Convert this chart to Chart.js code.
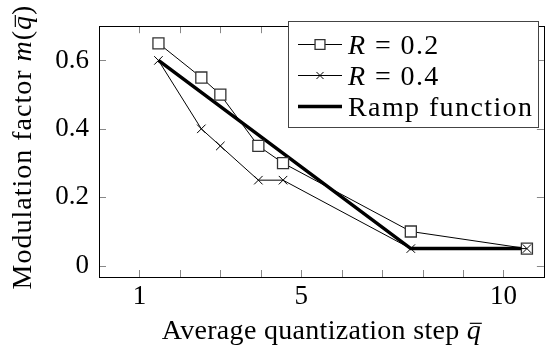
<!DOCTYPE html>
<html>
<head>
<meta charset="utf-8">
<script src="https://cdn.jsdelivr.net/npm/chart.js@4.4.1/dist/chart.umd.min.js"></script>
<style>
  html, body { margin: 0; padding: 0; background: #fff; }
  #wrap { width: 553px; height: 345px; }
</style>
</head>
<body>
<div id="wrap"><canvas id="modChart" width="553" height="345"></canvas></div>
<script>
// Data
const qSteps = [1.47, 2.53, 3.0, 3.94, 4.55, 7.71, 10.58];
const mR02 = [0.65, 0.55, 0.50, 0.35, 0.30, 0.10, 0.05];
const mR04 = [0.60, 0.40, 0.35, 0.25, 0.25, 0.05, 0.05];
const rampSteps = [1.47, 7.71, 10.58];
const rampValues = [0.60, 0.05, 0.05];
const seriesLabels = ["R = 0.2", "R = 0.4", "Ramp function"];
const xTickLabels = [1, 5, 10];
const yTickValues = [0, 0.2, 0.4, 0.6];

const SERIF = "'Liberation Serif', 'Times New Roman', serif";
const FS = 27;

function toPoints(xs, ys) {
    return xs.map((x, i) => ({ x: x, y: ys[i] }));
}

// draws a line of text made of pieces, some italic, some with an overline (q bar)
function drawRich(ctx, parts, x, y, align, size, spacing) {
    ctx.letterSpacing = spacing + "px";
    let total = 0;
    parts.forEach(p => {
        ctx.font = (p.it ? "italic " : "") + size + "px " + SERIF;
        p.w = ctx.measureText(p.t).width;
        total += p.w;
    });
    let cx = align === "center" ? x - total / 2 : x;
    ctx.textBaseline = "alphabetic";
    ctx.textAlign = "left";
    parts.forEach(p => {
        ctx.font = (p.it ? "italic " : "") + size + "px " + SERIF;
        ctx.fillText(p.t, cx, y);
        if (p.bar) {
            ctx.save();
            ctx.lineWidth = 1.2;
            ctx.beginPath();
            ctx.moveTo(cx + 3, y - size * 0.56);
            ctx.lineTo(cx + p.w - spacing + 1, y - size * 0.56);
            ctx.stroke();
            ctx.restore();
        }
        cx += p.w;
    });
    ctx.letterSpacing = "0px";
}

function labelParts(label) {
    if (label.startsWith("R ")) return [{ t: "R", it: true }, { t: label.slice(1) }];
    return [{ t: label }];
}

// axis titles, frame with inward ticks, and the boxed legend
const texDecor = {
    id: "texDecor",
    afterDatasetsDraw(chart) {
        const ctx = chart.ctx;
        const a = chart.chartArea;
        const xs = chart.scales.x, ys = chart.scales.y;
        ctx.save();
        ctx.lineWidth = 1;

        // ticks on all four sides, pointing inward
        ctx.strokeStyle = "#888";
        ctx.beginPath();
        xs.ticks.forEach(t => {
            if (t.value <= xs.min || t.value >= xs.max) return;
            const px = Math.round(xs.getPixelForValue(t.value)) + 0.5;
            ctx.moveTo(px, a.bottom); ctx.lineTo(px, a.bottom - 7);
            ctx.moveTo(px, a.top); ctx.lineTo(px, a.top + 7);
        });
        ys.ticks.forEach(t => {
            const py = Math.round(ys.getPixelForValue(t.value)) + 0.5;
            ctx.moveTo(a.left, py); ctx.lineTo(a.left + 7, py);
            ctx.moveTo(a.right, py); ctx.lineTo(a.right - 7, py);
        });
        ctx.stroke();

        ctx.strokeStyle = "#000";
        ctx.strokeRect(Math.round(a.left) + 0.5, Math.round(a.top) + 0.5,
            Math.round(a.right - a.left), Math.round(a.bottom - a.top));

        // legend box
        const lx = 288, ly = 21, lw = 250, lh = 106;
        ctx.fillStyle = "#fff";
        ctx.fillRect(lx, ly, lw, lh);
        ctx.strokeStyle = "#444";
        ctx.strokeRect(lx + 0.5, ly + 0.5, lw, lh);
        const rowY = [44, 75, 106];
        chart.data.datasets.forEach((ds, i) => {
            const yy = rowY[i] + 0.5;
            ctx.strokeStyle = ds.borderColor;
            ctx.lineWidth = ds.borderWidth;
            ctx.beginPath();
            ctx.moveTo(298, yy); ctx.lineTo(342, yy);
            ctx.stroke();
            if (ds.pointRadius > 0) {
                ctx.lineWidth = ds.pointBorderWidth;
                ctx.strokeStyle = ds.pointBorderColor;
                ctx.fillStyle = ds.pointBackgroundColor;
                Chart.helpers.drawPoint(ctx, {
                    pointStyle: ds.pointStyle, rotation: 0,
                    radius: ds.legendRadius, borderWidth: ds.pointBorderWidth
                }, 320, yy);
            }
            ctx.fillStyle = "#000";
            drawRich(ctx, labelParts(ds.label), 348, rowY[i] + 10, "left", 28, 1.4);
        });

        // axis titles
        ctx.fillStyle = "#000";
        ctx.strokeStyle = "#000";
        drawRich(ctx, [{ t: "Average quantization step " }, { t: "q", it: true, bar: true }],
            (a.left + a.right) / 2, 339, "center", 28, 0.3);
        ctx.save();
        ctx.translate(31, 147);
        ctx.rotate(-Math.PI / 2);
        drawRich(ctx, [{ t: "Modulation factor " }, { t: "m", it: true }, { t: "(" },
            { t: "q", it: true, bar: true }, { t: ")" }], 0, 0, "center", 28, 1);
        ctx.restore();
        ctx.restore();
    }
};

const ctx = document.getElementById("modChart").getContext("2d");
new Chart(ctx, {
    type: "scatter",
    data: {
        datasets: [
            {
                label: seriesLabels[0],
                data: toPoints(qSteps, mR02),
                showLine: true,
                borderColor: "#000",
                borderWidth: 1,
                pointStyle: "rect",
                pointRadius: 7.8,
                legendRadius: 7,
                pointBorderColor: "#333",
                pointBackgroundColor: "#fff",
                pointBorderWidth: 1.3,
                order: 2
            },
            {
                label: seriesLabels[1],
                data: toPoints(qSteps, mR04),
                showLine: true,
                borderColor: "#000",
                borderWidth: 1,
                pointStyle: "crossRot",
                pointRadius: 6,
                legendRadius: 5,
                pointBorderColor: "#000",
                pointBackgroundColor: "#000",
                pointBorderWidth: 1,
                order: 1
            },
            {
                label: seriesLabels[2],
                data: toPoints(rampSteps, rampValues),
                showLine: true,
                borderColor: "#000",
                borderWidth: 3.5,
                pointRadius: 0,
                order: 3
            }
        ]
    },
    options: {
        responsive: false,
        animation: false,
        devicePixelRatio: 1,
        layout: { padding: { left: 0, right: 3, top: 12, bottom: 0 } },
        plugins: { legend: { display: false }, tooltip: { enabled: false } },
        elements: { line: { tension: 0 } },
        scales: {
            x: {
                type: "linear",
                min: 0,
                max: 11,
                grid: { display: false, drawTicks: false },
                border: { display: false },
                afterFit: s => { s.height = 68; },
                ticks: {
                    stepSize: 1,
                    padding: 4,
                    color: "#000",
                    font: { family: SERIF, size: FS },
                    callback: v => xTickLabels.includes(v) ? String(v) : ""
                }
            },
            y: {
                min: -0.033,
                max: 0.7,
                grid: { display: false, drawTicks: false },
                border: { display: false },
                afterFit: s => { s.width = 99; },
                afterBuildTicks: s => { s.ticks = yTickValues.map(v => ({ value: v })); },
                ticks: {
                    padding: 10,
                    color: "#000",
                    font: { family: SERIF, size: FS },
                    callback: v => v === 0 ? "0" : v.toFixed(1)
                }
            }
        }
    },
    plugins: [texDecor]
});
</script>
</body>
</html>
